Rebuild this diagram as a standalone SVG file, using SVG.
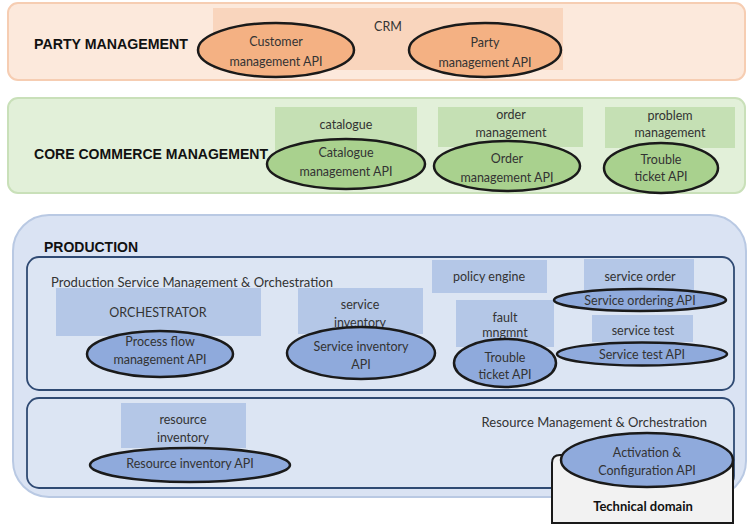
<svg xmlns="http://www.w3.org/2000/svg" width="751" height="525" viewBox="0 0 751 525">
<style>
.t{font-family:Lato,"Open Sans","Liberation Sans",sans-serif;font-size:12.5px;fill:#333;text-anchor:middle}
.h{font-family:"Liberation Sans",Arial,sans-serif;font-size:14px;font-weight:bold;fill:#111}
.e{stroke:#1a1a1a;stroke-width:2.5}
.eo{fill:#f4b183}.eg{fill:#a9d18e}.eb{fill:#8faadc}
.ro{fill:#f9d5bd}.rg{fill:#c5e0b4}.rb{fill:#b4c7e7}
.sub{fill:#dce5f3;stroke:#2f4a73;stroke-width:1.8}
</style>
<rect width="751" height="525" fill="#fff"/>
<g id="party">
<rect x="8" y="3" width="737" height="77" rx="10" fill="#fce9dc" stroke="#f6cdb2" stroke-width="2"/>
<text class="h" x="34" y="49" textLength="154" lengthAdjust="spacingAndGlyphs">PARTY MANAGEMENT</text>
<rect class="ro" x="213" y="8" width="350" height="62"/>
<text class="t" x="388" y="31">CRM</text>
</g>
<g id="customer-api"><ellipse class="e eo" cx="276" cy="50" rx="78" ry="27"/><text class="t" x="276" y="46">Customer</text><text class="t" x="276" y="66">management API</text></g>
<g id="party-api"><ellipse class="e eo" cx="485" cy="50" rx="76" ry="27"/><text class="t" x="485" y="47">Party</text><text class="t" x="485" y="67">management API</text></g>

<g id="core">
<rect x="8" y="98" width="737" height="95" rx="10" fill="#e2f0d9" stroke="#c9e0b9" stroke-width="2"/>
<text class="h" x="34" y="159" textLength="234" lengthAdjust="spacingAndGlyphs">CORE COMMERCE MANAGEMENT</text>
<rect class="rg" x="275" y="107" width="142" height="46"/>
<text class="t" x="346" y="129">catalogue</text>
<rect class="rg" x="438" y="107" width="145" height="40"/>
<text class="t" x="511" y="119">order</text><text class="t" x="511" y="137">management</text>
<rect class="rg" x="605" y="107" width="130" height="41"/>
<text class="t" x="670" y="120">problem</text><text class="t" x="670" y="137">management</text>
</g>
<g id="catalogue-api"><ellipse class="e eg" cx="346" cy="164" rx="79" ry="25"/><text class="t" x="346" y="157">Catalogue</text><text class="t" x="346" y="176">management API</text></g>
<g id="order-api"><ellipse class="e eg" cx="507" cy="166" rx="73" ry="25"/><text class="t" x="507" y="163">Order</text><text class="t" x="507" y="182">management API</text></g>
<g id="trouble-api-1"><ellipse class="e eg" cx="661" cy="168" rx="57" ry="25"/><text class="t" x="661" y="164">Trouble</text><text class="t" x="661" y="181">ticket API</text></g>

<g id="production">
<rect x="13" y="215" width="733" height="282" rx="36" fill="#dae3f3" stroke="#b9c9e3" stroke-width="2"/>
<text class="h" x="44" y="252" textLength="94" lengthAdjust="spacingAndGlyphs">PRODUCTION</text>
</g>
<g id="service-mgmt">
<rect class="sub" x="27" y="257" width="707" height="133" rx="12"/>
<text class="t" x="51" y="287" style="text-anchor:start;font-size:13px" textLength="282" lengthAdjust="spacingAndGlyphs">Production Service Management &amp; Orchestration</text>
<rect class="rb" x="56" y="288" width="205" height="48"/>
<text class="t" x="158" y="317">ORCHESTRATOR</text>
<rect class="rb" x="298" y="288" width="125" height="46"/>
<text class="t" x="360" y="309">service</text><text class="t" x="360" y="327">inventory</text>
<rect class="rb" x="432" y="260" width="115" height="33"/>
<text class="t" x="489" y="281">policy engine</text>
<rect class="rb" x="456" y="300" width="98" height="47"/>
<text class="t" x="505" y="322">fault</text><text class="t" x="505" y="337">mngmnt</text>
<rect class="rb" x="584" y="259" width="110" height="33"/>
<text class="t" x="640" y="281">service order</text>
<rect class="rb" x="592" y="315" width="101" height="27"/>
<text class="t" x="643" y="335">service test</text>
</g>
<g id="process-api"><ellipse class="e eb" cx="160" cy="354" rx="73" ry="23"/><text class="t" x="160" y="346">Process flow</text><text class="t" x="160" y="364">management API</text></g>
<g id="service-inventory-api"><ellipse class="e eb" cx="361" cy="353" rx="74" ry="26"/><text class="t" x="361" y="351">Service inventory</text><text class="t" x="361" y="369">API</text></g>
<g id="trouble-api-2"><ellipse class="e eb" cx="505" cy="363" rx="51" ry="24"/><text class="t" x="505" y="362">Trouble</text><text class="t" x="505" y="379">ticket API</text></g>
<g id="service-ordering-api"><ellipse class="e eb" cx="640" cy="300" rx="86" ry="11"/><text class="t" x="640" y="304.5">Service ordering API</text></g>
<g id="service-test-api"><ellipse class="e eb" cx="642" cy="354" rx="85" ry="11.5"/><text class="t" x="642" y="358.5">Service test API</text></g>

<g id="resource-mgmt">
<rect class="sub" x="27" y="398" width="707" height="90" rx="12"/>
<text class="t" x="707" y="427" style="text-anchor:end;font-size:13px">Resource Management &amp; Orchestration</text>
<rect class="rb" x="121" y="403" width="125" height="45"/>
<text class="t" x="183" y="424">resource</text><text class="t" x="183" y="442">inventory</text>
</g>
<g id="resource-inventory-api"><ellipse class="e eb" cx="190" cy="465" rx="100" ry="17"/><text class="t" x="190" y="468">Resource inventory API</text></g>
<g id="technical-domain">
<path d="M552 523 L552 463 Q552 455 560 455 L725 455 Q733 455 733 463 L733 523 Z" fill="#f2f2f2" stroke="#1a1a1a" stroke-width="2"/>
<text class="h" x="643" y="511" style="text-anchor:middle;font-family:Lato,'Liberation Sans',sans-serif;font-size:13px">Technical domain</text>
</g>
<g id="activation-api"><ellipse class="e eb" cx="647" cy="460" rx="86" ry="27"/><text class="t" x="647" y="457">Activation &amp;</text><text class="t" x="647" y="475">Configuration API</text></g>
<g id="connectors"></g>
</svg>
